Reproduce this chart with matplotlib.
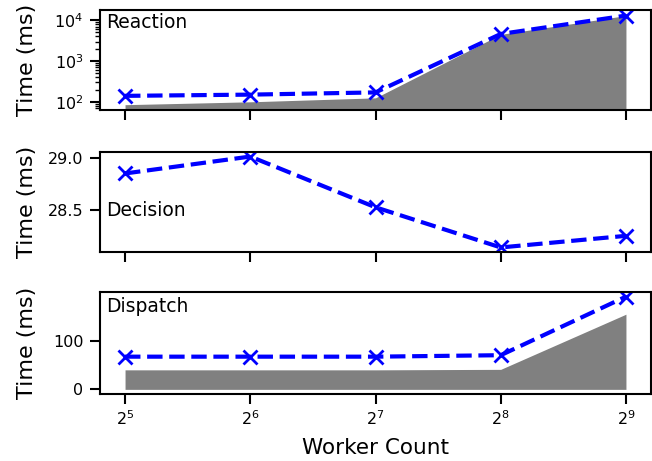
import matplotlib
matplotlib.use("Agg")
import matplotlib.pyplot as plt
import matplotlib.transforms as mtransforms

workers = [32, 64, 128, 256, 512]
reaction_line = [140, 150, 170, 4600, 13000]
reaction_fill = [85, 100, 125, 4500, 13000]
decision_line = [28.85, 29.01, 28.53, 28.15, 28.26]
dispatch_line = [67, 67, 67, 70, 190]
dispatch_fill = [40, 40, 40, 41, 154]

plt.rcParams['font.family'] = ['DejaVu Sans']
plt.rcParams['axes.linewidth'] = 1.5
plt.rcParams['xtick.major.width'] = 1.5
plt.rcParams['ytick.major.width'] = 1.5
plt.rcParams['xtick.major.size'] = 7
plt.rcParams['ytick.major.size'] = 7
plt.rcParams['xtick.major.pad'] = 4
plt.rcParams['ytick.major.pad'] = 5
plt.rcParams['ytick.minor.width'] = 1.0
plt.rcParams['ytick.minor.size'] = 3.5
plt.rcParams['xtick.labelsize'] = 11.5
plt.rcParams['ytick.labelsize'] = 11.5

W, H = 652, 461
fig = plt.figure(figsize=(W / 100, H / 100), dpi=100)

def ax_rect(x0, y0, x1, y1):
    return [x0 / W, 1 - y1 / H, (x1 - x0) / W, (y1 - y0) / H]

ax1 = fig.add_axes(ax_rect(100, 10, 651, 110))
ax2 = fig.add_axes(ax_rect(100, 152, 651, 252), sharex=ax1)
ax3 = fig.add_axes(ax_rect(100, 292, 651, 394), sharex=ax1)

line_kw = dict(color='blue', linestyle='--', linewidth=3, marker='x', markersize=10, markeredgewidth=2)

# Reaction
ax1.fill_between(workers, reaction_fill, 1e-3, color='gray', linewidth=0)
ax1.plot(workers, reaction_line, **line_kw)
ax1.set_yscale('log')
ax1.set_ylim(63, 17800)
ax1.text(0.012, 0.88, 'Reaction', transform=ax1.transAxes, fontsize=13.5, va='center', ha='left')

# Decision
ax2.plot(workers, decision_line, **line_kw)
ax2.set_yticks([28.5, 29.0])
ax2.set_yticklabels(['28.5', '29.0'])
trans = mtransforms.blended_transform_factory(ax2.transAxes, ax2.transData)
ax2.text(0.012, 28.5, 'Decision', transform=trans, fontsize=13.5, va='center', ha='left')

# Dispatch
ax3.fill_between(workers, dispatch_fill, 0, color='gray', linewidth=0)
ax3.plot(workers, dispatch_line, **line_kw)
ax3.set_yticks([0, 100])
ax3.text(0.012, 0.86, 'Dispatch', transform=ax3.transAxes, fontsize=13.5, va='center', ha='left')

ax3.set_xscale('log', base=2)
ax3.set_xticks(workers)
ax3.set_xticklabels([r'$2^{%d}$' % e for e in [5, 6, 7, 8, 9]])
ax3.xaxis.set_minor_locator(matplotlib.ticker.NullLocator())
ax3.set_xlim(2 ** 4.8, 2 ** 9.2)

for ax in (ax1, ax2):
    ax.tick_params(axis='x', labelbottom=False)

for ax in (ax1, ax2, ax3):
    ax.set_ylabel('Time (ms)', fontsize=16)
    ax.yaxis.set_label_coords((37 - 100) / 551, 0.5)
ax3.set_xlabel('Worker Count', fontsize=15.5, labelpad=7)

fig.savefig('out.png', dpi=100)
